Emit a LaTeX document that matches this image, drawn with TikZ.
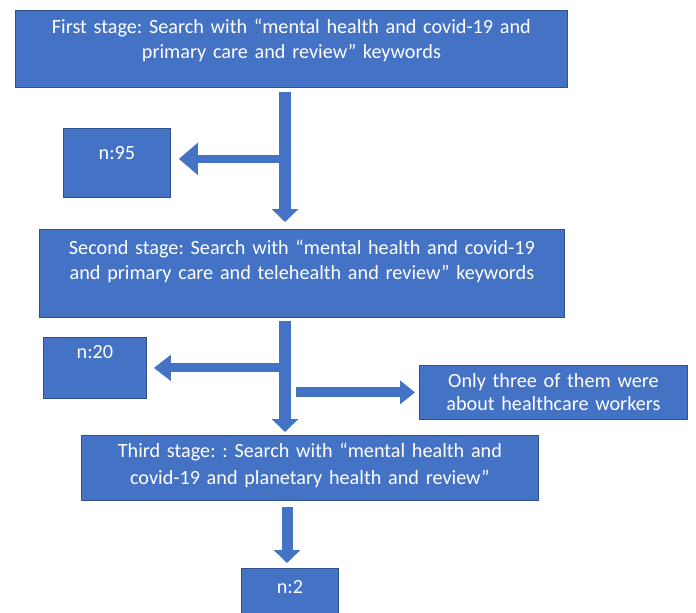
\documentclass[tikz,border=0pt]{standalone}
\usepackage{fontspec}
\setmainfont{Carlito}
\frenchspacing
\usetikzlibrary{arrows.meta, positioning}

\definecolor{boxblue}{HTML}{4472C4}
\definecolor{edgeblue}{HTML}{2F528F}

\begin{document}
\begin{tikzpicture}[x=1pt, y=-1pt,
    stage/.style={draw=edgeblue, line width=0.8pt, fill=boxblue, text=white, align=center,
        inner sep=0pt, anchor=north west, text height=23pt, font=\fontsize{20.2}{25}\selectfont},
    flow/.style={draw=boxblue, line width=12pt, -{Triangle[width=26pt, length=13pt]}},
    branch/.style={draw=boxblue, line width=9pt, -{Triangle[width=25pt, length=17pt]}}]
\useasboundingbox (0,0) rectangle (696,613);

\node[stage, text width=552pt, text depth=54pt] (first) at (15,10)
    {First stage: Search with “mental health and covid-19 and\\ primary care and review” keywords};
\node[stage, text width=107pt, text height=31pt, text depth=38pt] (n95) at (63,128) {n:95};

\node[stage, text width=525pt, text height=25pt, text depth=63pt] (second) at (39,229)
    {Second stage: Search with “mental health and covid-19\\ and primary care and telehealth and review” keywords};
\node[stage, text width=103pt, text height=21pt, text depth=40pt] (n20) at (43,337) {n:20};
\node[stage, text width=268pt, text height=22pt, text depth=32pt, font=\fontsize{20.2}{23}\selectfont] (only) at (419,365)
    {Only three of them were\\ about healthcare workers};

\node[stage, text width=457pt, text height=22pt, text depth=43pt, font=\fontsize{20.2}{27}\selectfont] (third) at (81,435)
    {Third stage: : Search with “mental health and\\ covid-19 and planetary health and review”};
\node[stage, text width=97pt, text height=25pt, text depth=25pt] (n2) at (241,568) {n:2};

\coordinate (s1) at (285,0);
\coordinate (s3) at (287,0);

% main flow
\draw[flow, shorten <=4pt, shorten >=7pt] (first.south -| s1) -- (second.north -| s1);
\draw[flow, shorten <=3pt, shorten >=3pt] (second.south -| s1) -- (third.north -| s1);
\draw[flow, line width=11pt, shorten <=6pt, shorten >=5pt] (third.south -| s3) -- (n2.north -| s3);

% side branches
\draw[branch, line width=8pt, -{Triangle[width=31pt, length=19pt]}, shorten >=8pt]
    ([yshift=4pt]n95.east -| s1) -- ([yshift=4pt]n95.east);
\draw[branch, shorten >=7pt] (n20.east -| s1) -- (n20.east);
\draw[branch, line width=10pt, -{Triangle[width=23pt, length=15pt]}, shorten <=11pt, shorten >=4pt]
    (only.west -| s1) -- (only.west);
\end{tikzpicture}
\end{document}
